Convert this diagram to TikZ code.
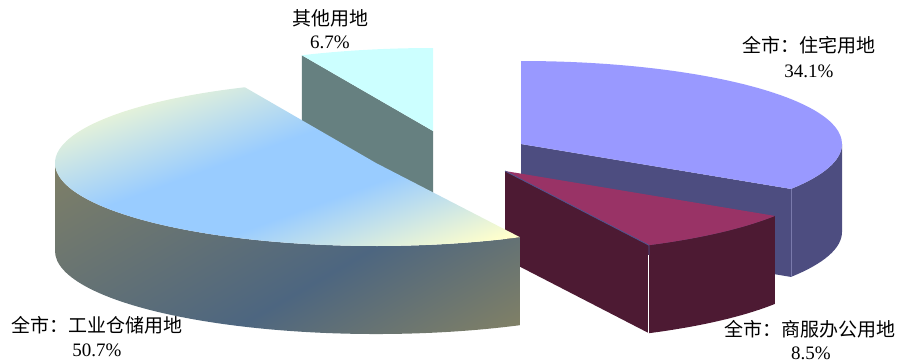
\documentclass[tikz,border=0pt]{standalone}
\usepackage{fontspec}
\setmainfont{Liberation Serif}
\newfontfamily\cjk{Noto Sans CJK SC}
\definecolor{resTop}{HTML}{9999FF}
\definecolor{resSide}{HTML}{4D4D80}
\definecolor{resSeam}{HTML}{7A7AAC}
\definecolor{comTop}{HTML}{993366}
\definecolor{comSide}{HTML}{4D1A33}
\definecolor{comSeam}{HTML}{4D5590}
\definecolor{othTop}{HTML}{CCFFFF}
\definecolor{othSide}{HTML}{668080}
\definecolor{indY}{HTML}{FFFFCC}
\definecolor{indB}{HTML}{99CCFF}
\definecolor{indO}{HTML}{808066}
\definecolor{indD}{HTML}{4D6680}
\pgfdeclareverticalshading{indTopSh}{100bp}{color(0bp)=(indY); color(40.7bp)=(indY); color(47.5bp)=(indB); color(52.5bp)=(indB); color(60.7bp)=(indY); color(100bp)=(indY)}
\pgfdeclareverticalshading{indSideSh}{100bp}{color(0bp)=(indO); color(41.2bp)=(indO); color(50bp)=(indD); color(65bp)=(indO); color(100bp)=(indO)}
\tikzset{
  lab/.style={font=\cjk\fontsize{19}{21}\selectfont, text=black, inner sep=0pt},
  num/.style={font=\fontsize{19}{21}\selectfont, text=black, inner sep=0pt},
  ell/.style={x radius=321, y radius=83}
}
\begin{document}
\begin{tikzpicture}[x=1pt,y=-1pt]
\useasboundingbox (0,0) rectangle (900,362);
% ---------- centres and rim points (tikz angle phi: centre + (321 cos phi, 83 sin phi))
\coordinate (Oc) at (433,131);
\coordinate (Oa) at ({433+321*cos(245.88)},{131+83*sin(245.88)});
\coordinate (Rc) at (521,144);
\coordinate (Rt) at (521,61);
\coordinate (R0) at (842,144);
\coordinate (Ra) at ({521+321*cos(32.76)},{144+83*sin(32.76)});
\coordinate (Cc) at (505,171);
\coordinate (Ca) at ({505+321*cos(32.76)},{171+83*sin(32.76)});
\coordinate (Cb) at ({505+321*cos(63.36)},{171+83*sin(63.36)});
\coordinate (Ic) at (376,163);
\coordinate (Ia) at ({376+321*cos(245.88)},{163+83*sin(245.88)});
\coordinate (Ib) at ({376+321*cos(63.36)},{163+83*sin(63.36)});
\coordinate (Il) at (55,163);
% ---------- other land (back)
\fill[othSide] (Oc) -- (Oa) -- ++(0,88) -- ([yshift=-88pt]Oc) -- cycle;
\fill[othTop] (Oc) -- (Oa) arc[ell, start angle=245.88, end angle=270] -- cycle;
% ---------- residential
\fill[resSide] (Rc) -- (Ra) -- ++(0,88) -- ([yshift=-88pt]Rc) -- cycle;
\fill[resSide] (R0) arc[ell, start angle=0, end angle=32.76] -- ++(0,88) arc[ell, start angle=32.76, end angle=0] -- cycle;
\fill[resTop] (Rc) -- (Rt) arc[ell, start angle=-90, end angle=32.76] -- cycle;
\draw[resSeam, line width=0.8pt] (Ra) -- ++(0,88);
% ---------- commercial
\fill[comSide] (Cc) -- (Cb) -- ++(0,88) -- ([yshift=-88pt]Cc) -- cycle;
\fill[comSide] (Ca) arc[ell, start angle=32.76, end angle=63.36] -- ++(0,88) arc[ell, start angle=63.36, end angle=32.76] -- cycle;
\fill[comTop] (Cc) -- (Ca) arc[ell, start angle=32.76, end angle=63.36] -- cycle;
\draw[comSeam, line width=0.8pt] (Cc) -- (Cb) -- ++(0,10);
\draw[white, line width=1pt] ([yshift=-10pt]Cb) -- ++(0,78);
% ---------- industrial (front)
\begin{scope}
  \clip (Il) arc[ell, start angle=180, end angle=63.36] -- ++(0,88) arc[ell, start angle=63.36, end angle=180] -- cycle;
  \shade[shading=indSideSh, shading angle=30] (-100,-109) rectangle (700,691);
\end{scope}
\begin{scope}
  \clip (Ic) -- (Ia) arc[ell, start angle=245.88, end angle=63.36] -- cycle;
  \shade[shading=indTopSh, shading angle=20] (-50,-177) rectangle (650,523);
\end{scope}
% ---------- labels
\node[lab] (othL) at (330,18) {其他用地};
\node[num] (othP) at (330,42) {6.7\%};
\node[lab] (resL) at (809,45) {全市：住宅用地};
\node[num] (resP) at (809,71) {34.1\%};
\node[lab] (comL) at (810,329) {全市：商服办公用地};
\node[num] (comP) at (811,353) {8.5\%};
\node[lab] (indL) at (97,325) {全市：工业仓储用地};
\node[num] (indP) at (97,350) {50.7\%};
\end{tikzpicture}
\end{document}
